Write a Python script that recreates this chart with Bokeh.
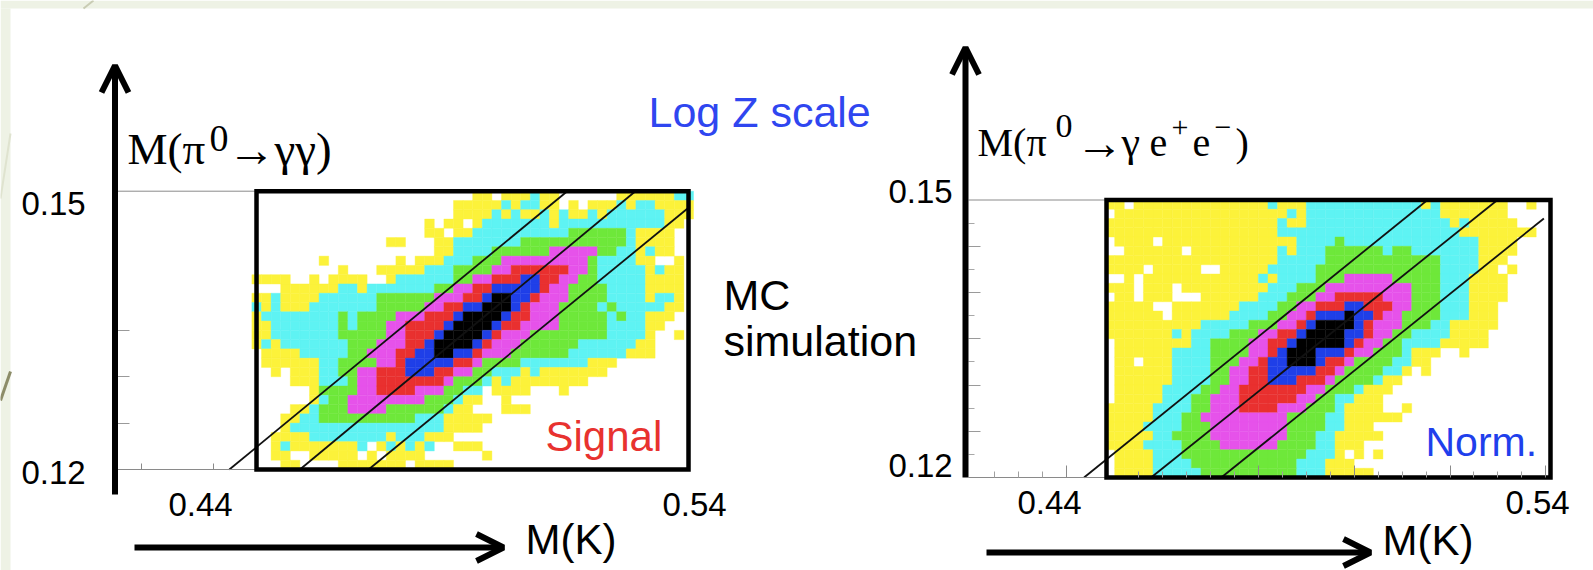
from bokeh.embed import file_html
from bokeh.resources import INLINE
from bokeh.plotting import figure
from bokeh.models import (Range1d, LinearAxis, FixedTicker, Label, Arrow, OpenHead,
                          ColumnDataSource)

# log-Z contour level of each 2 MeV x 1 MeV bin, top row first ("from-to:level").
# 0 empty, 1 yellow, 2 cyan, 3 green, 4 magenta, 5 red, 6 blue, 7 black
SIGNAL_ROWS = [
 "23-24:1 26-28:1 29:2 30-31:1 38-43:1 44-45:2",
 "21-25:1 26:2 27:1 28-29:2 30-31:1 33:1 35-37:1 38:2 39:1 40-41:2 42-45:1",
 "21-24:1 25:2 26:1 27:2 28-29:1 30:2 31:1 32:2 33-34:1 35:2 36:1 37-42:2 43-45:1",
 "18:1 20-21:1 23:1 24-30:2 31:1 32-42:2 43-44:1",
 "18-19:1 21-22:1 23-32:2 33-38:3 39:2 40-43:1",
 "14-15:1 19-20:1 21-27:2 28-38:3 39:2 40-43:1",
 "19-20:1 21-24:2 25-30:3 31-35:4 36-37:3 38-39:2 40:1 41:2 42-43:1",
 "7:1 15:1 17-19:1 20-22:2 23-25:3 26-34:4 35:3 36-39:2 40-41:1 44:1",
 "9:1 13-17:1 18-20:2 21-24:3 25-26:4 27-32:5 33-34:4 35:3 36-40:2 41:1 42:2 43-44:1",
 "0-3:1 6:1 8-11:1 14:1 15-20:2 21-22:3 23-24:4 25-27:5 28-29:6 30-31:5 32-33:4 34-35:3 36-40:2 41-44:1",
 "3-8:1 9-10:2 11:1 12-18:2 19-20:3 21-22:4 23-24:5 25-29:6 30:5 31-32:4 33-36:3 37-40:2 41-44:1",
 "0-1:1 2:2 3-6:1 7-12:2 13-18:3 19-21:4 22-23:5 24:6 25-26:7 27-28:6 29:5 30-32:4 33-36:3 37-40:2 41:1 42-43:2 44:1",
 "0:2 1:1 2:2 3-5:1 6-12:2 13-17:3 18-19:4 20-21:5 22-23:6 24-26:7 27:6 28:5 29-31:4 32-35:3 36:2 37:3 38-42:2 43-44:1",
 "0:1 1-8:2 9:3 10:2 11-14:3 15-17:4 18-20:5 21:6 22-25:7 26:6 27-28:5 29-31:4 32-36:3 37:2 38:3 39-40:2 41-43:1",
 "0-1:1 2-8:2 9:3 10:2 11-13:3 14-15:4 16-19:5 20:6 21-24:7 25:6 26-27:5 28-31:4 32-36:3 37-40:2 41-42:1",
 "0-1:1 2-8:2 9-13:3 14-15:4 16-18:5 19:6 20-23:7 24:6 25:5 26-28:4 29-36:3 37-40:2 41:1 44:1",
 "0:1 1:2 2:1 3-9:2 10-12:3 13-15:4 16-17:5 18:6 19-22:7 23:6 24:5 25-27:4 28-33:3 34-39:2 40-41:1",
 "1-4:1 5-9:2 10-11:3 12-14:4 15-16:5 17-18:6 19-20:7 21-22:6 23:5 24-26:4 27-32:3 33-38:2 39-41:1",
 "1-6:1 7-8:2 9-12:3 13-14:4 15:5 16-20:6 21-22:5 23:4 24-27:3 28-34:2 35-37:1",
 "2:1 4-6:1 7-8:2 9-10:3 11-12:4 13-15:5 16-18:6 19-20:5 21-22:4 23-24:3 25-27:2 28:1 29:2 30-36:1",
 "4-6:1 7-9:2 10:3 11-12:4 13-19:5 20:4 21-23:3 24:2 25:1 26:2 27-34:1",
 "6:1 7-10:3 11-12:4 13-16:5 17-19:4 20-21:3 22-23:2 25-28:1 32:1",
 "6:1 7:2 8-9:3 10-17:4 18-20:3 21:2 22-23:1 26:1",
 "4-5:1 6:2 7-9:3 10-13:4 14-19:3 20:2 21-22:1 26-28:1",
 "3-4:1 5-6:2 7-16:3 17-19:2 20-24:1",
 "3:1 4-19:2 20-23:1",
 "2-5:1 6-13:2 14:1 15-17:2 18-20:1",
 "2:1 3:2 4-10:1 11:2 13:1 14:2 15:1 16:2 17:1 18:2 21-23:1",
 "2-3:1 6-10:1 12:1 14-17:1 24:1",
 "3-4:1 9-15:1 17-20:1",
]
NORM_ROWS = [
 "0-1:1 3-16:1 17:2 18-20:1 21-32:2 33:1 34:2 35-41:1 44:1",
 "1-18:1 19:2 20:1 21-34:2 35-41:1",
 "0-17:1 18:2 19-20:1 21-35:2 36:1 37:2 38-42:1",
 "0-17:1 18-36:2 37-44:1",
 "1-4:1 6-19:1 20-23:2 24:3 25-38:2 39-42:1",
 "2-7:1 9-17:1 18:2 19:1 20-22:2 23-28:3 29:2 30-31:3 32-38:2 39-42:1",
 "0-17:1 18-22:2 23-34:3 35-38:2 39-41:1",
 "0-3:1 5-9:1 12-16:1 17-21:2 22-34:3 35-38:2 39-40:1 42:1",
 "2:1 4-15:1 16:2 17:1 18-21:2 22-24:3 25-29:4 30-34:3 35-37:2 38-41:1",
 "0-2:1 4-6:1 8-16:1 17-19:2 20-22:3 23-31:4 32-34:3 35-37:2 38-41:1",
 "1-2:1 4-6:1 10-15:1 16-18:2 19-21:3 22-23:4 24-28:5 29-31:4 32-34:3 35-37:2 38-41:1",
 "0-4:1 7-13:1 14-17:2 18-19:3 20-21:4 22-24:5 25-26:6 27-29:5 30-31:4 32-34:3 35-37:2 38-40:1",
 "0-5:1 7-12:1 13-16:2 17-18:3 19-20:4 21:5 22-24:6 25:7 26-27:6 28:5 29-30:4 31-34:3 35-37:2 38-40:1",
 "0-9:1 10-14:2 15-17:3 18-19:4 20:5 21:6 22-25:7 26:6 27:5 28-30:4 31-33:3 34-35:2 36-40:1",
 "0-6:1 7:2 8:1 9-12:2 13-15:3 16-17:4 18-19:5 20:6 21-24:7 25-26:6 27:5 28-29:4 30-31:3 32-35:2 36-39:1",
 "1-8:1 9-10:2 11-14:3 15-16:4 17-18:5 19:6 20-24:7 25:6 26:5 27-28:4 29-30:3 31-34:2 35-39:1",
 "1-6:1 7-10:2 11-14:3 15-16:4 17:5 18:6 19-21:7 22-24:6 25:5 26-27:4 28-30:3 31:2 32-34:1 37:1",
 "1-2:1 4-6:1 7-10:2 11-13:3 14-15:4 16:5 17-18:6 19-21:7 22:6 23-24:5 25:4 26-29:3 30-31:2 32-33:1",
 "1-6:1 7-10:2 11-12:3 13-14:4 15-16:5 17-21:6 22-23:5 24:4 25-28:3 29-30:2 31:1 33:1",
 "1-6:1 7-10:2 11-12:3 13-14:4 15-16:5 17-19:6 20-22:5 23:4 24-27:3 28:2 29-30:1",
 "1-5:1 6-9:2 10-11:3 12-13:4 14-20:5 21-22:4 23-25:3 26:2 27-29:1",
 "1-5:1 6-8:2 9-10:3 11-13:4 14-19:5 20-21:4 22-23:3 24-25:2 26-28:1",
 "0-4:1 5-8:2 9-10:3 11-13:4 14-17:5 18-20:4 21-23:3 24:2 25-28:1 31:1",
 "0-4:1 5-7:2 8-9:3 10-18:4 19-22:3 23-24:2 25-30:1",
 "0-3:1 4-7:2 8-10:3 11-18:4 19-22:3 23-24:2 25-27:1",
 "0-4:1 5-6:2 7-10:3 11-18:4 19-21:3 22-23:2 24-28:1",
 "0-3:1 4-7:2 8-11:3 12-17:4 18-21:3 22-23:2 24-26:1",
 "1-4:1 5-7:2 8-20:3 21-23:2 24:1 26:1 28:1",
 "1-4:1 5-8:2 9-19:3 20-22:2 23-25:1",
 "1-4:1 5-9:2 10-19:3 20-22:2 23-27:1",
]
LEVEL_COLORS = ["#ffffff", "#fcf23a", "#5ef3f3", "#6ee83a", "#e652ea", "#e9302f", "#1f3fe8", "#000000"]
MK_START, MK_BIN = 0.448, 0.002
MPI_TOP, MPI_BIN = 0.15, 0.001

# diagonal mass-window lines: (M(K) start, M(pi0) start, M(K) end, M(pi0) end)
SIGNAL_LINES = [(0.4433, 0.12, 0.5137, 0.15), (0.4580, 0.12, 0.5279, 0.15), (0.4723, 0.12, 0.5387, 0.1481)]
NORM_LINES = [(0.4436, 0.12, 0.5153, 0.15), (0.4576, 0.12, 0.5299, 0.15), (0.47225, 0.12, 0.5396, 0.1480)]
SIGNAL_BOX = (0.44896, 0.53896)
NORM_BOX = (0.44829, 0.54098)
Y_LOW, Y_HIGH = 0.12, 0.15
SIGNAL_Y_TICKS = [0.125, 0.13, 0.135]
SIGNAL_X_TICKS = [0.425, 0.44]
NORM_Y_MAJOR = [0.125, 0.13, 0.135, 0.14, 0.145]
NORM_Y_MINOR = [0.1225, 0.1275, 0.1325, 0.1375, 0.1425, 0.1475]
NORM_X_MAJOR = [0.44, 0.48, 0.50, 0.52, 0.54]
NORM_X_MINOR = [0.425, 0.43, 0.435, 0.455, 0.46, 0.465, 0.47, 0.475, 0.485, 0.49, 0.495, 0.505, 0.51, 0.515, 0.525, 0.53, 0.535]

W, H = 1593, 570
# pixel calibration of the two panels
def lx(px): return 0.44 + (px - 213) / 4800
def ly(py): return 0.12 + (469 - py) / 9277
def rx(px): return 0.44 + (px - 1066.3) / 4790
def ry(py): return 0.12 + (477 - py) / 9250

p = figure(width=W, height=H, output_backend="svg", toolbar_location=None,
           x_axis_type=None, y_axis_type=None, min_border=0,
           x_range=Range1d(lx(0), lx(W)), y_range=Range1d(ly(H), ly(0)),
           background_fill_color="white", border_fill_color="white", outline_line_color=None)
p.grid.visible = False
p.extra_x_ranges["r"] = Range1d(rx(0), rx(W))
p.extra_y_ranges["r"] = Range1d(ry(H), ry(0))
R = dict(x_range_name="r", y_range_name="r")

# slide background showing at the top and left edges
PALE = "#eef2e5"
p.quad(left=[lx(0), lx(0)], right=[lx(W), lx(10)], top=[ly(0), ly(8)], bottom=[ly(8), ly(H)],
       fill_color=PALE, line_color=None)
p.line([lx(93), lx(83)], [ly(0), ly(8)], line_color="#c9ccb4", line_width=2)
p.line([lx(0), lx(10)], [ly(198), ly(133)], line_color="#dfe3cf", line_width=2)
p.line([lx(0), lx(10)], [ly(400), ly(371)], line_color="#8c8c68", line_width=3)


def cells(rows):
    d = dict(left=[], right=[], top=[], bottom=[], color=[], level=[])
    for r, row in enumerate(rows):
        for token in row.split():
            span, lev = token.split(":")
            a, _, b = span.partition("-")
            for c in range(int(a), int(b or a) + 1):
                d["left"].append(MK_START + c * MK_BIN)
                d["right"].append(MK_START + (c + 1) * MK_BIN)
                d["top"].append(MPI_TOP - r * MPI_BIN)
                d["bottom"].append(MPI_TOP - (r + 1) * MPI_BIN)
                d["level"].append(int(lev))
                d["color"].append(LEVEL_COLORS[int(lev)])
    return ColumnDataSource(d)


def axis_pair(names, ax_x, xt_major, xt_minor, yt_major, yt_minor, xb, yb, maj, mino):
    xa = LinearAxis(fixed_location=Y_LOW, ticker=FixedTicker(ticks=xt_major, minor_ticks=xt_minor),
                    bounds=xb, major_label_overrides={t: "" for t in xt_major},
                    axis_line_color=None, major_tick_line_color="#8a8a8a",
                    minor_tick_line_color="#a0a0a0", major_tick_in=maj[0], major_tick_out=0,
                    minor_tick_in=mino[0], minor_tick_out=0, **names)
    ya = LinearAxis(fixed_location=ax_x, ticker=FixedTicker(ticks=yt_major, minor_ticks=yt_minor),
                    bounds=yb, major_label_overrides={t: "" for t in yt_major},
                    axis_line_color=None, major_tick_line_color="#9a9a9a", minor_tick_line_color="#a8a8a8",
                    major_tick_in=maj[1], major_tick_out=0, minor_tick_in=mino[1], minor_tick_out=0, **names)
    p.add_layout(xa, "below")
    p.add_layout(ya, "left")


# panels
p.quad(left="left", right="right", top="top", bottom="bottom", fill_color="color",
       line_color="color", line_width=0.4, source=cells(SIGNAL_ROWS))
p.quad(left="left", right="right", top="top", bottom="bottom", fill_color="color",
       line_color="color", line_width=0.4, source=cells(NORM_ROWS), **R)

for x0, y0, x1, y1 in SIGNAL_LINES:
    p.line([x0, x1], [y0, y1], line_color="#111111", line_width=1.8)
for x0, y0, x1, y1 in NORM_LINES:
    p.line([x0, x1], [y0, y1], line_color="#111111", line_width=1.8, **R)

# gray rules from axis to box
for yy in (Y_LOW, Y_HIGH):
    p.line([lx(117), SIGNAL_BOX[0]], [yy, yy], line_color="#8a8a8a", line_width=1)
    p.line([rx(968), NORM_BOX[0]], [yy, yy], line_color="#8a8a8a", line_width=1, **R)

axis_pair({}, lx(117), SIGNAL_X_TICKS, [], SIGNAL_Y_TICKS, [], (lx(117), SIGNAL_BOX[0]), (Y_LOW, Y_HIGH), (6, 12), (0, 0))
axis_pair(R, rx(968), NORM_X_MAJOR, NORM_X_MINOR, NORM_Y_MAJOR, NORM_Y_MINOR, (rx(968), NORM_BOX[1]), (Y_LOW, Y_HIGH), (12, 12), (6, 6))

p.quad(left=[SIGNAL_BOX[0]], right=[SIGNAL_BOX[1]], top=[Y_HIGH], bottom=[Y_LOW],
       fill_color=None, line_color="black", line_width=4.5, line_join="miter")
p.quad(left=[NORM_BOX[0]], right=[NORM_BOX[1]], top=[Y_HIGH], bottom=[Y_LOW],
       fill_color=None, line_color="black", line_width=4.5, line_join="miter", **R)

# hand-drawn style arrows
def arrow(x0, y0, x1, y1):
    p.add_layout(Arrow(end=OpenHead(size=27, line_width=6, line_color="black"),
                       x_start=lx(x0), y_start=ly(y0), x_end=lx(x1), y_end=ly(y1),
                       line_color="black", line_width=6))

arrow(114.5, 494, 114.5, 65)
arrow(965, 477, 965, 47)
arrow(134, 547, 503, 547)
arrow(986, 552, 1370, 552)


SANS = "Liberation Sans"
SERIF = "Liberation Serif"

def text(s, x, y, size, color="black", font=SANS, align="left", base=True):
    # y is the baseline when base is True, otherwise the middle of the text
    mid = y - 0.34 * size if base else y
    p.add_layout(Label(x=lx(x), y=ly(mid), text=s, text_font=font, text_font_size=f"{size}px",
                       text_color=color, text_align=align, text_baseline="middle"))

TICK = 33
for s, x, y in [("0.15", 21, 203), ("0.12", 21, 472), ("0.15", 888, 191), ("0.12", 888, 465)]:
    text(s, x, y, TICK, base=False)
for s, x, y in [("0.44", 200, 504), ("0.54", 694, 504), ("0.44", 1049, 502), ("0.54", 1537, 502)]:
    text(s, x, y, TICK, align="center", base=False)

text("M(K)", 525, 553, 42)
text("M(K)", 1382, 554, 42)
text("Log Z scale", 648, 126, 43, color="#2f46f0")
text("MC", 723, 309, 43)
text("simulation", 723, 355, 43)
text("Signal", 545, 450, 42, color="#e8322f")
text("Norm.", 1425, 455, 41, color="#1f40ec")

# axis titles, pieced together for the raised parts
text("M(\u03c0", 127, 164, 45, font=SERIF)
text("0", 209, 151, 38, font=SERIF)
text("\u2192", 227, 165, 48, font=SERIF)
text("\u03b3\u03b3)", 274, 164, 47, font=SERIF)

text("M(\u03c0", 977, 156, 40, font=SERIF)
text("0", 1055, 137, 34, font=SERIF)
text("\u2192", 1075, 158, 48, font=SERIF)
text("\u03b3", 1121, 156, 42, font=SERIF)
text("e", 1149, 156, 40, font=SERIF)
text("+", 1171, 137, 30, font=SERIF)
text("e", 1192, 156, 40, font=SERIF)
text("\u2212", 1214, 137, 30, font=SERIF)
text(")", 1235, 156, 40, font=SERIF)

open("out.html", "w").write(file_html(p, INLINE))
